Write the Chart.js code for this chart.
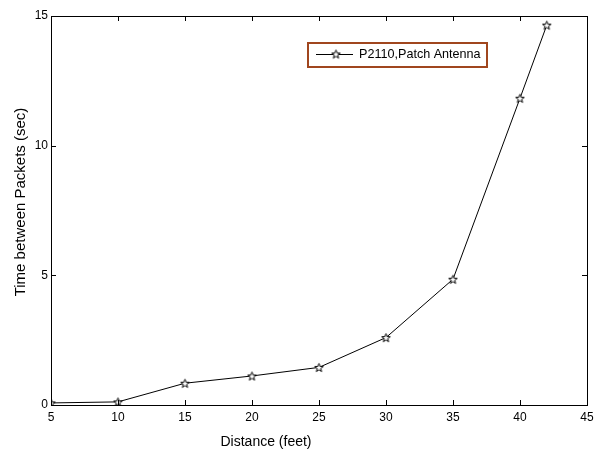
<!DOCTYPE html>
<html lang="en">
<head>
    <meta charset="UTF-8">
    <title>Time between Packets vs Distance</title>
    <script src="https://cdn.jsdelivr.net/npm/chart.js"></script>
    <style>
        html, body { margin: 0; padding: 0; background: #fff; }
        #wrap { width: 600px; height: 452px; }
    </style>
</head>
<body>
    <div id="wrap"><canvas id="packetChart" width="600" height="452"></canvas></div>
    <script>
        // values
        const distances = [5, 10, 15, 20, 25, 30, 35, 40, 42];
        const packetTimes = [0.08, 0.12, 0.84, 1.12, 1.45, 2.6, 4.85, 11.83, 14.65];
        const xTicks = [5, 10, 15, 20, 25, 30, 35, 40, 45];
        const yTicks = [0, 5, 10, 15];
        const seriesLabel = 'P2110,Patch Antenna';

        const FONT = '"Liberation Sans", Arial, sans-serif';

        // 5-point star outline used as marker
        function makeStar(size) {
            const c = document.createElement('canvas');
            c.width = size; c.height = size;
            const g = c.getContext('2d');
            const cx = size / 2, cy = size / 2 + 0.5;
            const R = size / 2 - 1, r = R * 0.42;
            g.beginPath();
            for (let i = 0; i < 10; i++) {
                const rad = i % 2 === 0 ? R : r;
                const a = -Math.PI / 2 + i * Math.PI / 5;
                const px = cx + rad * Math.cos(a), py = cy + rad * Math.sin(a);
                if (i === 0) g.moveTo(px, py); else g.lineTo(px, py);
            }
            g.closePath();
            g.fillStyle = '#fff';
            g.fill();
            g.strokeStyle = '#000';
            g.lineWidth = 1;
            g.stroke();
            return c;
        }
        const star = makeStar(11);

        // box, inward ticks, axis titles, legend
        const framePlugin = {
            id: 'frame',
            afterDraw(chart) {
                const ctx = chart.ctx;
                const a = chart.chartArea;
                const xs = chart.scales.x, ys = chart.scales.y;
                ctx.save();
                ctx.strokeStyle = '#000';
                ctx.lineWidth = 1;
                ctx.strokeRect(Math.round(a.left) + 0.5, Math.round(a.top) + 0.5,
                    Math.round(a.right - a.left), Math.round(a.bottom - a.top));
                ctx.beginPath();
                xTicks.forEach(v => {
                    const px = Math.round(xs.getPixelForValue(v)) + 0.5;
                    ctx.moveTo(px, a.bottom); ctx.lineTo(px, a.bottom - 5);
                    ctx.moveTo(px, a.top); ctx.lineTo(px, a.top + 5);
                });
                yTicks.forEach(v => {
                    const py = Math.round(ys.getPixelForValue(v)) + 0.5;
                    ctx.moveTo(a.left, py); ctx.lineTo(a.left + 5, py);
                    ctx.moveTo(a.right, py); ctx.lineTo(a.right - 5, py);
                });
                ctx.stroke();

                ctx.fillStyle = '#000';
                ctx.font = '14px ' + FONT;
                ctx.textAlign = 'center';
                ctx.textBaseline = 'middle';
                ctx.fillText('Distance (feet)', 266, 442);
                ctx.translate(21, 202);
                ctx.rotate(-Math.PI / 2);
                ctx.font = '15px ' + FONT;
                ctx.fillText('Time between Packets (sec)', 0, 0);
                ctx.restore();

                // legend
                ctx.save();
                ctx.fillStyle = '#fff';
                ctx.fillRect(308, 43, 179, 24);
                ctx.strokeStyle = '#a0461e';
                ctx.lineWidth = 2;
                ctx.strokeRect(308, 43, 179, 24);
                ctx.strokeStyle = '#000';
                ctx.lineWidth = 1;
                ctx.beginPath();
                ctx.moveTo(316, 54.5); ctx.lineTo(353, 54.5);
                ctx.stroke();
                ctx.drawImage(star, 336 - 5.5, 54.5 - 6);
                ctx.fillStyle = '#000';
                ctx.font = '12.6px ' + FONT;
                ctx.textAlign = 'left';
                ctx.textBaseline = 'middle';
                ctx.fillText(seriesLabel, 359, 55);
                ctx.restore();
            }
        };

        const ctx = document.getElementById('packetChart').getContext('2d');
        new Chart(ctx, {
            type: 'line',
            data: {
                datasets: [{
                    label: seriesLabel,
                    data: distances.map((d, i) => ({ x: d, y: packetTimes[i] })),
                    borderColor: '#000',
                    borderWidth: 1,
                    pointStyle: star,
                    pointRadius: 5,
                    tension: 0,
                    fill: false
                }]
            },
            options: {
                responsive: false,
                animation: false,
                layout: { padding: { left: 0, right: 13, top: 16, bottom: 0 } },
                plugins: {
                    legend: { display: false },
                    tooltip: { enabled: false }
                },
                scales: {
                    x: {
                        type: 'linear',
                        min: 5,
                        max: 45,
                        grid: { display: false, drawTicks: false },
                        border: { display: false },
                        afterBuildTicks: s => { s.ticks = xTicks.map(v => ({ value: v })); },
                        afterFit: s => { s.height = 47; },
                        ticks: { color: '#000', font: { family: FONT, size: 12 }, padding: 5, maxRotation: 0 }
                    },
                    y: {
                        type: 'linear',
                        min: 0,
                        max: 15,
                        grid: { display: false, drawTicks: false },
                        border: { display: false },
                        afterBuildTicks: s => { s.ticks = yTicks.map(v => ({ value: v })); },
                        afterFit: s => { s.width = 51; },
                        ticks: { color: '#000', font: { family: FONT, size: 12 }, padding: 3 }
                    }
                }
            },
            plugins: [framePlugin]
        });
    </script>
</body>
</html>
